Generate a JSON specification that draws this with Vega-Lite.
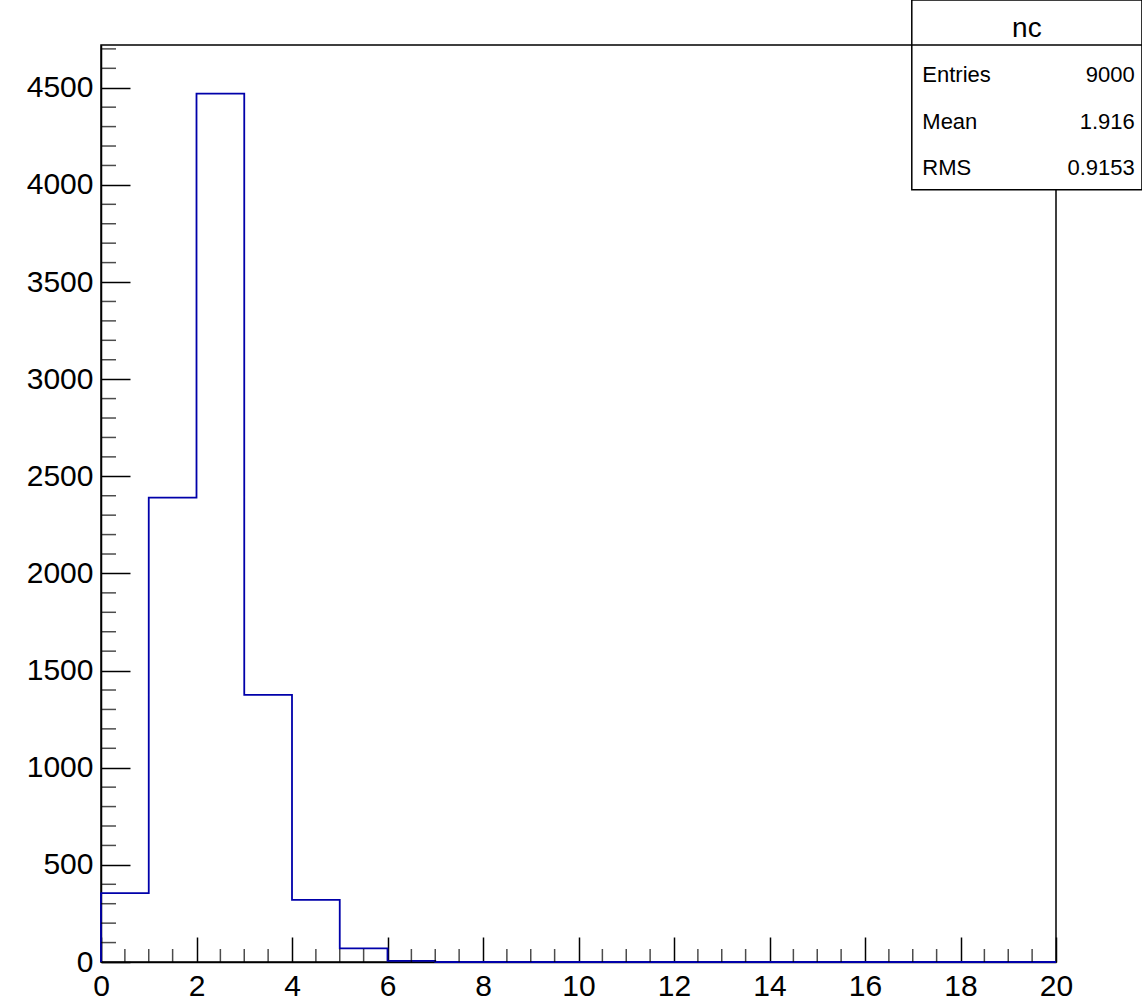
{
  "$schema": "https://vega.github.io/schema/vega-lite/v6.json",
  "autosize": "none",
  "width": 955,
  "height": 917,
  "padding": {"left": 101, "top": 45, "right": 86, "bottom": 41},
  "background": "white",
  "config": {
    "view": {"stroke": "black", "strokeWidth": 1.5},
    "axis": {"grid": false, "domainColor": "black", "tickColor": "black", "labelColor": "black", "labelFont": "Liberation Sans", "labelFontSize": 30, "tickWidth": 1.5, "domainWidth": 1.5, "title": null}
  },
  "datasets": {
    "hist": [
      {"x": 0, "n": 0},
      {"x": 0, "n": 355},
      {"x": 1, "n": 2390},
      {"x": 2, "n": 4470},
      {"x": 3, "n": 1375},
      {"x": 4, "n": 320},
      {"x": 5, "n": 70},
      {"x": 6, "n": 6},
      {"x": 7, "n": 0},
      {"x": 20, "n": 0}
    ],
    "stats": [
      {"label": "Entries", "value": "9000", "row": 4565},
      {"label": "Mean", "value": "1.916", "row": 4323},
      {"label": "RMS", "value": "0.9153", "row": 4086}
    ],
    "xminor": [
      {"v": 0.5}, {"v": 1}, {"v": 1.5}, {"v": 2.5}, {"v": 3}, {"v": 3.5}, {"v": 4.5}, {"v": 5}, {"v": 5.5},
      {"v": 6.5}, {"v": 7}, {"v": 7.5}, {"v": 8.5}, {"v": 9}, {"v": 9.5}, {"v": 10.5}, {"v": 11}, {"v": 11.5},
      {"v": 12.5}, {"v": 13}, {"v": 13.5}, {"v": 14.5}, {"v": 15}, {"v": 15.5}, {"v": 16.5}, {"v": 17}, {"v": 17.5},
      {"v": 18.5}, {"v": 19}, {"v": 19.5}
    ],
    "yminor": [
      {"v": 100}, {"v": 200}, {"v": 300}, {"v": 400}, {"v": 600}, {"v": 700}, {"v": 800}, {"v": 900},
      {"v": 1100}, {"v": 1200}, {"v": 1300}, {"v": 1400}, {"v": 1600}, {"v": 1700}, {"v": 1800}, {"v": 1900},
      {"v": 2100}, {"v": 2200}, {"v": 2300}, {"v": 2400}, {"v": 2600}, {"v": 2700}, {"v": 2800}, {"v": 2900},
      {"v": 3100}, {"v": 3200}, {"v": 3300}, {"v": 3400}, {"v": 3600}, {"v": 3700}, {"v": 3800}, {"v": 3900},
      {"v": 4100}, {"v": 4200}, {"v": 4300}, {"v": 4400}, {"v": 4600}, {"v": 4700}
    ]
  },
  "layer": [
    {
      "data": {"name": "hist"},
      "mark": {"type": "line", "interpolate": "step-after", "color": "#0000aa", "strokeWidth": 1.8, "clip": false},
      "encoding": {
        "x": {"field": "x", "type": "quantitative", "scale": {"domain": [0, 20], "nice": false},
          "axis": {"values": [0, 2, 4, 6, 8, 10, 12, 14, 16, 18, 20], "tickSize": -25, "labelPadding": 34, "format": "d", "labelFlush": false}},
        "y": {"field": "n", "type": "quantitative", "scale": {"domain": [0, 4720], "nice": false, "zero": true},
          "axis": {"values": [0, 500, 1000, 1500, 2000, 2500, 3000, 3500, 4000, 4500], "tickSize": -29, "labelPadding": 37, "format": "d", "labelFlush": false}}
      }
    },
    {
      "data": {"name": "xminor"},
      "mark": {"type": "tick", "orient": "vertical", "color": "black", "size": 13, "thickness": 1.5, "yOffset": -6.5},
      "encoding": {"x": {"field": "v", "type": "quantitative"}, "y": {"datum": 0, "type": "quantitative"}}
    },
    {
      "data": {"name": "yminor"},
      "mark": {"type": "tick", "orient": "horizontal", "color": "black", "size": 15, "thickness": 1.5, "xOffset": 7.5},
      "encoding": {"y": {"field": "v", "type": "quantitative"}, "x": {"datum": 0, "type": "quantitative"}}
    },
    {
      "data": {"values": [{"x1": 16.98, "x2": 21.8, "y1": 3975, "y2": 4952}]},
      "mark": {"type": "rect", "fill": "white", "stroke": "black", "strokeWidth": 1.5, "clip": false},
      "encoding": {"x": {"field": "x1", "type": "quantitative"}, "x2": {"field": "x2"}, "y": {"field": "y1", "type": "quantitative"}, "y2": {"field": "y2"}}
    },
    {
      "data": {"values": [{"x1": 16.98, "x2": 21.8, "y": 4720}]},
      "mark": {"type": "rule", "color": "black", "strokeWidth": 1.5, "clip": false},
      "encoding": {"x": {"field": "x1", "type": "quantitative"}, "x2": {"field": "x2"}, "y": {"field": "y", "type": "quantitative"}}
    },
    {
      "data": {"values": [{"x": 19.39, "y": 4800, "t": "nc"}]},
      "mark": {"type": "text", "font": "Liberation Sans", "fontSize": 28, "color": "black", "clip": false},
      "encoding": {"x": {"field": "x", "type": "quantitative"}, "y": {"field": "y", "type": "quantitative"}, "text": {"field": "t"}}
    },
    {
      "data": {"name": "stats"},
      "mark": {"type": "text", "font": "Liberation Sans", "fontSize": 22, "align": "left", "color": "black", "clip": false},
      "encoding": {"x": {"datum": 17.2, "type": "quantitative"}, "y": {"field": "row", "type": "quantitative"}, "text": {"field": "label"}}
    },
    {
      "data": {"name": "stats"},
      "mark": {"type": "text", "font": "Liberation Sans", "fontSize": 22, "align": "right", "color": "black", "clip": false},
      "encoding": {"x": {"datum": 21.65, "type": "quantitative"}, "y": {"field": "row", "type": "quantitative"}, "text": {"field": "value"}}
    }
  ]
}
